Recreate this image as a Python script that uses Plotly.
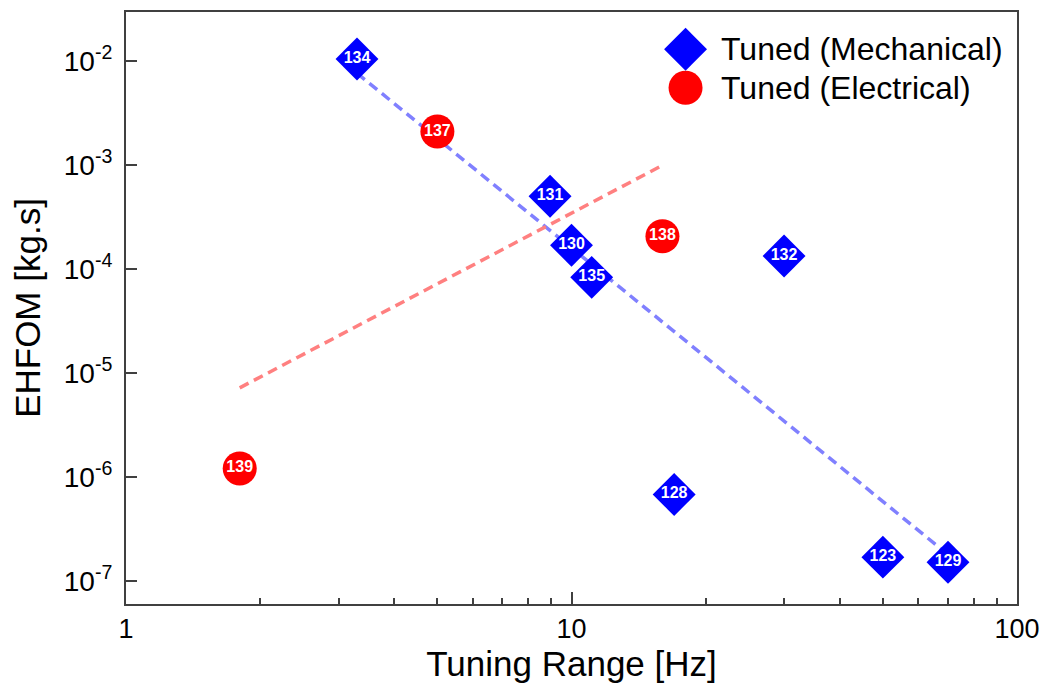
import plotly.graph_objects as go

# ---- data ----
mech_x = [3.3, 8.95, 10.0, 11.1, 30.0, 17.0, 50.0, 70.0]
mech_y = [1.04e-2, 5.0e-4, 1.69e-4, 8.3e-5, 1.33e-4, 6.8e-7, 1.70e-7, 1.52e-7]
mech_lbl = ["134", "131", "130", "135", "132", "128", "123", "129"]

elec_x = [5.0, 16.0, 1.8]
elec_y = [2.09e-3, 2.06e-4, 1.21e-6]
elec_lbl = ["137", "138", "139"]

mech_fit_x = [3.3, 70.0]
mech_fit_y = [7.6e-3, 1.8e-7]
elec_fit_x = [1.8, 16.0]
elec_fit_y = [7.2e-6, 9.9e-4]

legend_names = ["Tuned (Mechanical)", "Tuned (Electrical)"]

x_tickvals = [1, 10, 100]
x_ticktext = ["1", "10", "100"]
x_minor = [2, 3, 4, 5, 6, 7, 8, 9, 20, 30, 40, 50, 60, 70, 80, 90]
y_tickvals = [1e-7, 1e-6, 1e-5, 1e-4, 1e-3, 1e-2]
y_ticktext = ["10<sup>-7</sup>", "10<sup>-6</sup>", "10<sup>-5</sup>",
              "10<sup>-4</sup>", "10<sup>-3</sup>", "10<sup>-2</sup>"]

FONT = "Arial, Liberation Sans, sans-serif"
BLUE = "#0000FF"
RED = "#FF0000"

fig = go.Figure()

fig.add_trace(go.Scatter(x=mech_fit_x, y=mech_fit_y, mode="lines",
                         line=dict(color="#8080FF", width=3.5, dash="10px,6px"),
                         showlegend=False, hoverinfo="skip"))
fig.add_trace(go.Scatter(x=elec_fit_x, y=elec_fit_y, mode="lines",
                         line=dict(color="#FF8080", width=3.5, dash="10px,6px"),
                         showlegend=False, hoverinfo="skip"))

fig.add_trace(go.Scatter(x=mech_x, y=mech_y, mode="markers+text", text=mech_lbl,
                         textposition="middle center",
                         textfont=dict(family=FONT, size=16, color="white", weight="bold"),
                         marker=dict(symbol="diamond", size=33, color=BLUE, line=dict(width=0)),
                         name=legend_names[0], showlegend=False))
fig.add_trace(go.Scatter(x=elec_x, y=elec_y, mode="markers+text", text=elec_lbl,
                         textposition="middle center",
                         textfont=dict(family=FONT, size=16, color="white", weight="bold"),
                         marker=dict(symbol="circle", size=34, color=RED, line=dict(width=0)),
                         name=legend_names[1], showlegend=False))

# custom legend (large keys) on a hidden overlay axis in paper-like units
leg_key_x = 0.628
leg_text_x = 0.666
leg_rows_y = [0.937, 0.872]
fig.add_trace(go.Scatter(x=[leg_key_x], y=[leg_rows_y[0]], xaxis="x2", yaxis="y2",
                         mode="markers", marker=dict(symbol="diamond", size=33, color=BLUE),
                         showlegend=False, hoverinfo="skip"))
fig.add_trace(go.Scatter(x=[leg_key_x], y=[leg_rows_y[1]], xaxis="x2", yaxis="y2",
                         mode="markers", marker=dict(symbol="circle", size=34, color=RED),
                         showlegend=False, hoverinfo="skip"))
for name, yy in zip(legend_names, leg_rows_y):
    fig.add_annotation(x=leg_text_x, y=yy, xref="paper", yref="paper", text=name,
                       showarrow=False, xanchor="left", yanchor="middle",
                       font=dict(family=FONT, size=32, color="black"))

axis_line = "#404040"
fig.update_layout(
    width=1048, height=689,
    margin=dict(l=118, r=39, t=2, b=93),
    paper_bgcolor="white", plot_bgcolor="white",
    font=dict(family=FONT, color="black"),
    xaxis=dict(type="log", range=[0, 2], showgrid=False, zeroline=False,
               showline=True, linecolor=axis_line, linewidth=2, mirror=True,
               ticks="inside", ticklen=12, tickwidth=1.5, tickcolor=axis_line,
               tickvals=x_tickvals, ticktext=x_ticktext,
               tickfont=dict(family=FONT, size=27),
               minor=dict(tickvals=x_minor, ticks="inside", ticklen=6,
                          tickwidth=1.5, tickcolor=axis_line, showgrid=False),
               title=dict(text="Tuning Range [Hz]", font=dict(family=FONT, size=35),
                          standoff=2)),
    yaxis=dict(type="log", range=[-7.22, -1.531], showgrid=False, zeroline=False,
               showline=True, linecolor=axis_line, linewidth=2, mirror=True,
               ticks="inside", ticklen=11, tickwidth=1.5, tickcolor=axis_line,
               tickvals=y_tickvals, ticktext=y_ticktext, ticklabelstandoff=6,
               tickfont=dict(family=FONT, size=28),
               title=dict(text="EHFOM [kg.s]", font=dict(family=FONT, size=35),
                          standoff=14)),
    xaxis2=dict(overlaying="x", range=[0, 1], visible=False, fixedrange=True),
    yaxis2=dict(overlaying="y", range=[0, 1], visible=False, fixedrange=True),
)

fig.write_html("out.html")
